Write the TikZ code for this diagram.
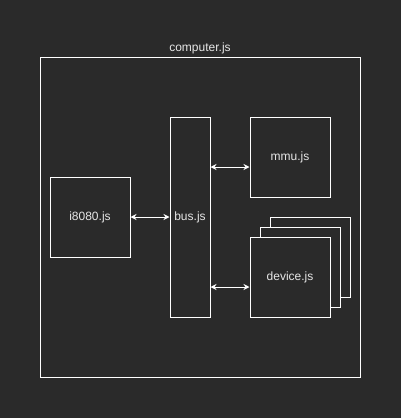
\documentclass[tikz,border=0pt]{standalone}
\usepackage{fontspec}
\setmainfont{Liberation Sans}
\usetikzlibrary{arrows.meta}
\definecolor{bg}{HTML}{2A2A2A}
\definecolor{txt}{HTML}{E6E6E6}
\begin{document}
\begin{tikzpicture}[x=1pt,y=-1pt,
  box/.style={draw=white,line width=1pt,fill=bg,minimum width=80pt,minimum height=80pt,inner sep=0pt,text=txt,font=\fontsize{12}{14}\selectfont},
  conn/.style={draw=white,line width=1pt,{Stealth[length=6pt,width=6pt]}-{Stealth[length=6pt,width=6pt]}}]
\fill[bg] (0,0) rectangle (401,418);
\useasboundingbox (0,0) rectangle (401,418);
\node[box,minimum width=320pt,minimum height=320pt,fill=none] (comp) at (200,217) {};
\node[text=txt,font=\fontsize{12}{14}\selectfont,anchor=base] (complabel) at (200,51) {computer.js};
\node[box,minimum width=40pt,minimum height=200pt] (bus) at (190,217) {bus.js};
\node[box] (mmu) at (290,157) {mmu.js};
\node[box] (cpu) at (90,217) {i8080.js};
\node[box] (dev3) at (310,257) {};
\node[box] (dev2) at (300,267) {};
\node[box] (dev) at (290,277) {device.js};
\draw[conn] (cpu.east) -- (bus.west |- cpu.east);
\coordinate (bm) at (bus.east |- 0,167);
\coordinate (mm) at (mmu.west |- 0,167);
\draw[conn] (bm) -- (mm);
\coordinate (bd) at (bus.east |- 0,287);
\coordinate (dd) at (dev.west |- 0,287);
\draw[conn] (bd) -- (dd);
\end{tikzpicture}
\end{document}
